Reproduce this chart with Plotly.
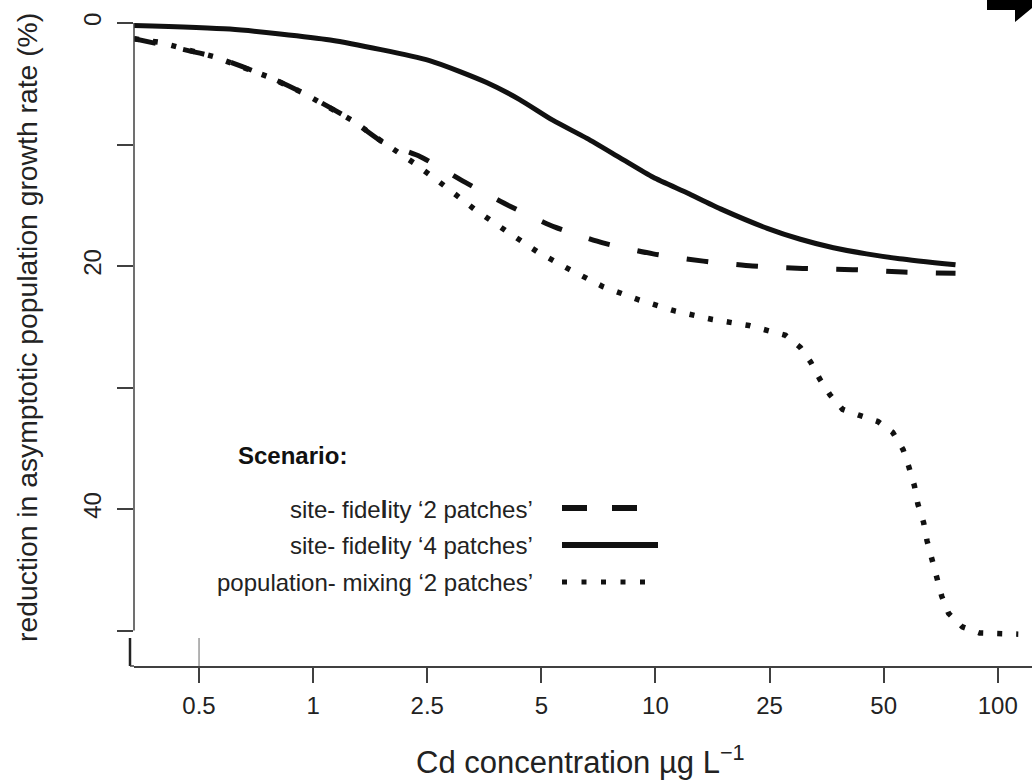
import plotly.graph_objects as go

# ---------------- data ----------------
conc_labels = ["0.5", "1", "2.5", "5", "10", "25", "50", "100"]
conc_pos = list(range(len(conc_labels)))          # evenly spaced ordinal concentration scale

# site-fidelity '4 patches' (solid)
sf4_x = [-0.57, 0.27, 1.15, 2.02, 2.52, 2.81, 3.10, 3.40, 3.69, 3.98, 4.28, 4.57, 4.98, 5.27, 5.56, 5.85, 6.14, 6.63]
sf4_y = [0.2, 0.5, 1.4, 3.1, 4.9, 6.3, 8.0, 9.5, 11.1, 12.7, 14.0, 15.3, 16.9, 17.8, 18.5, 19.0, 19.4, 19.9]

# site-fidelity '2 patches' (dashed)
sf2_x = [-0.57, 0.14, 0.60, 0.90, 1.34, 1.61, 1.94, 2.33, 2.73, 3.12, 3.54, 3.98, 4.42, 4.85, 5.29, 5.73, 6.17, 6.63]
sf2_y = [1.3, 2.8, 4.4, 5.7, 8.0, 9.8, 11.0, 13.1, 15.1, 16.8, 18.1, 19.0, 19.6, 20.0, 20.2, 20.3, 20.5, 20.6]

# population-mixing '2 patches' (dotted)
pm2_x = [-0.57, -0.34, 0.14, 0.60, 0.90, 1.34, 1.61, 1.88, 2.15, 2.41, 2.69, 2.96, 3.25, 3.54, 3.86,
         4.17, 4.50, 4.82, 5.14, 5.27, 5.36, 5.44, 5.53, 5.64, 5.79, 5.95, 6.08, 6.17, 6.22, 6.27,
         6.30, 6.35, 6.38, 6.42, 6.46, 6.51, 6.57, 6.69, 6.84, 7.01, 7.18]
pm2_y = [1.3, 1.6, 2.8, 4.4, 5.7, 8.0, 9.8, 11.5, 13.4, 15.3, 17.1, 18.8, 20.3, 21.7, 22.8,
         23.7, 24.4, 24.9, 25.7, 26.7, 27.9, 29.3, 30.6, 31.8, 32.3, 32.8, 33.7, 35.1, 36.5, 38.1,
         39.6, 41.1, 42.6, 44.1, 45.7, 47.2, 48.6, 49.7, 50.2, 50.3, 50.3]

y_ticks = [0, 10, 20, 30, 40, 50]          # all tick marks
y_labelled = [0, 20, 40]                   # ticks that carry a label

legend_title = "Scenario:"
legend_labels = ["site- fide<b>l</b>ity ‘2 patches’",
                 "site- fide<b>l</b>ity ‘4 patches’",
                 "population- mixing ‘2 patches’"]
x_title = "Cd concentration µg L<sup>−1</sup>"
y_title = "reduction in asymptotic population growth rate (%)"

# ---------------- layout geometry ----------------
W, H = 1032, 783
L, R, T, B = 134, 0, 0, 117
PW, PH = W - L - R, H - T - B


def px(x):
    return (x - L) / PW


def py(y):
    return 1 - (y - T) / PH


FONT = "Liberation Sans, Arial, Helvetica, sans-serif"
INK = "#111111"
AX = "#404040"

fig = go.Figure()
fig.add_trace(go.Scatter(x=sf2_x, y=sf2_y, mode="lines",
                         line=dict(color=INK, width=5, dash="22px,28px", shape="spline", smoothing=0.6),
                         showlegend=False, hoverinfo="skip"))
fig.add_trace(go.Scatter(x=pm2_x, y=pm2_y, mode="lines",
                         line=dict(color=INK, width=5.5, dash="5px,14px"),
                         showlegend=False, hoverinfo="skip"))
fig.add_trace(go.Scatter(x=sf4_x, y=sf4_y, mode="lines",
                         line=dict(color=INK, width=5, shape="spline", smoothing=0.6),
                         showlegend=False, hoverinfo="skip"))

x_left = -0.57
px_per_unit_x = 114.1
y_top_px = 23
px_per_unit_y = 12.15

fig.update_layout(
    width=W, height=H,
    margin=dict(l=L, r=R, t=T, b=B, pad=0),
    paper_bgcolor="white", plot_bgcolor="white",
    font=dict(family=FONT, color="#222222"),
    xaxis=dict(range=[x_left, x_left + PW / px_per_unit_x],
               tickmode="array", tickvals=conc_pos, ticktext=conc_labels,
               ticks="outside", ticklen=15, tickwidth=1.5, tickcolor=AX,
               showline=True, linecolor=AX, linewidth=1.5,
               showgrid=False, zeroline=False,
               tickfont=dict(size=24, family=FONT, color="#222222"),
               ticklabelstandoff=2),
    yaxis=dict(range=[(PH - y_top_px) / px_per_unit_y, -y_top_px / px_per_unit_y],
               tickmode="array", tickvals=y_labelled,
               ticktext=[str(v) for v in y_labelled],
               tickangle=-90,
               ticks="outside", ticklen=16, tickwidth=1.5, tickcolor=AX,
               minor=dict(tickmode="array", tickvals=y_ticks, ticks="outside",
                          ticklen=16, tickwidth=1.5, tickcolor=AX, showgrid=False),
               showline=False, showgrid=False, zeroline=False,
               tickfont=dict(size=24, family=FONT, color="#222222"),
               ticklabelstandoff=6),
)

shapes = [
    # y axis line spanning the tick range (R style)
    dict(type="line", xref="paper", yref="y", x0=0, x1=0, y0=y_ticks[0], y1=y_ticks[-1],
         line=dict(color=AX, width=1.5)),
    # corner of the lower axis
    dict(type="line", xref="paper", yref="paper", x0=px(130), x1=px(130), y0=py(638), y1=py(666),
         line=dict(color="#222222", width=2.5)),
    dict(type="line", xref="paper", yref="paper", x0=px(130), x1=0, y0=py(666), y1=py(666),
         line=dict(color=AX, width=1.5)),
    # light grey extension of first tick
    dict(type="line", xref="x", yref="paper", x0=conc_pos[0], x1=conc_pos[0], y0=py(638), y1=py(666),
         line=dict(color="#9a9a9a", width=1.5)),
    # legend samples
    dict(type="line", xref="paper", yref="paper", x0=px(562), x1=px(637), y0=py(508), y1=py(508),
         line=dict(color=INK, width=6, dash="25px,25px")),
    dict(type="line", xref="paper", yref="paper", x0=px(562), x1=px(658), y0=py(545), y1=py(545),
         line=dict(color=INK, width=6)),
    dict(type="line", xref="paper", yref="paper", x0=px(562), x1=px(646), y0=py(582), y1=py(582),
         line=dict(color=INK, width=5, dash="5px,14.5px")),
    # arrow fragment in the top-right corner
    dict(type="path", xref="paper", yref="paper",
         path=f"M {px(987)},{py(0)} L {px(1032)},{py(0)} L {px(1032)},{py(8)} L {px(1015)},{py(22)} "
              f"L {px(1015)},{py(10)} L {px(987)},{py(10)} Z",
         fillcolor="black", line=dict(width=0)),
]
fig.update_layout(shapes=shapes)

annotations = [
    dict(text=x_title, xref="paper", yref="paper", x=px(580), y=py(760),
         xanchor="center", yanchor="middle", showarrow=False,
         font=dict(size=31, family=FONT, color="#222222")),
    dict(text=y_title, xref="paper", yref="paper", x=px(27), y=py(328),
         xanchor="center", yanchor="middle", showarrow=False, textangle=-90,
         font=dict(size=28.3, family=FONT, color="#222222")),
    dict(text=f"<b>{legend_title}</b>", xref="paper", yref="paper", x=px(236), y=py(455),
         xanchor="left", yanchor="middle", showarrow=False,
         font=dict(size=24, family=FONT, color="#111111")),
]
for lab, yy in zip(legend_labels, [509, 545, 582]):
    annotations.append(dict(text=lab, xref="paper", yref="paper", x=px(535), y=py(yy),
                            xanchor="right", yanchor="middle", showarrow=False,
                            font=dict(size=24, family=FONT, color="#222222")))
fig.update_layout(annotations=annotations)

fig.write_html("out.html")
